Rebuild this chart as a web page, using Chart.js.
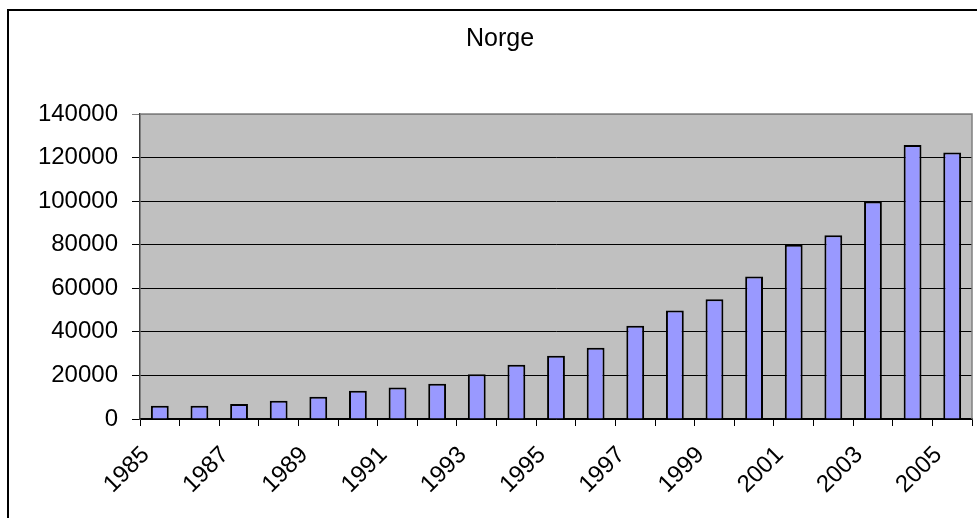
<!DOCTYPE html>
<html>
<head>
<meta charset="utf-8">
<script src="https://cdn.jsdelivr.net/npm/chart.js@4/dist/chart.umd.min.js"></script>
<style>
  html, body { margin: 0; padding: 0; background: #ffffff; }
  #wrap { position: relative; width: 977px; height: 518px; }
</style>
</head>
<body>
<div id="wrap"><canvas id="c" width="977" height="518"></canvas></div>
<script>
const years = ['1985','1986','1987','1988','1989','1990','1991','1992','1993','1994','1995',
               '1996','1997','1998','1999','2000','2001','2002','2003','2004','2005'];
const values = [6100, 6100, 6900, 8400, 10200, 13000, 14500, 16200, 20500, 24900, 29000,
                32700, 42800, 49800, 55000, 65400, 80000, 84400, 99800, 125800, 122300];
const yTicks = [0, 20000, 40000, 60000, 80000, 100000, 120000, 140000];
const titleText = 'Norge';

const FONT = '"Liberation Sans", Arial, sans-serif';

const framePlugin = {
  id: 'frame',
  beforeDraw(chart) {
    const ctx = chart.ctx;
    const a = chart.chartArea;
    ctx.save();
    ctx.fillStyle = '#ffffff';
    ctx.fillRect(0, 0, chart.width, chart.height);
    ctx.strokeStyle = '#000000';
    ctx.lineWidth = 2;
    ctx.beginPath();
    ctx.moveTo(8, chart.height);
    ctx.lineTo(8, 10);
    ctx.lineTo(chart.width, 10);
    ctx.stroke();
    ctx.fillStyle = '#c0c0c0';
    ctx.fillRect(a.left, a.top, a.right - a.left, a.bottom - a.top);
    ctx.restore();
  },
  afterDatasetsDraw(chart) {
    const ctx = chart.ctx;
    const a = chart.chartArea;
    ctx.save();
    ctx.strokeStyle = '#808080';
    ctx.lineWidth = 1.5;
    ctx.beginPath();
    ctx.moveTo(a.left, a.top);
    ctx.lineTo(a.right, a.top);
    ctx.lineTo(a.right, a.bottom);
    ctx.stroke();
    ctx.restore();
  }
};

new Chart(document.getElementById('c'), {
  type: 'bar',
  data: {
    labels: years,
    datasets: [{
      data: values,
      backgroundColor: '#9999ff',
      borderColor: '#000000',
      borderWidth: 2,
      borderSkipped: 'start',
      barPercentage: 0.45,
      categoryPercentage: 1.0
    }]
  },
  options: {
    responsive: false,
    animation: false,
    devicePixelRatio: 1,
    layout: { padding: { top: 0, right: 5, bottom: 0, left: 28 } },
    plugins: {
      legend: { display: false },
      tooltip: { enabled: false },
      title: {
        display: true,
        text: titleText,
        color: '#000000',
        font: { family: FONT, size: 25, weight: 'normal', lineHeight: 1.2 },
        padding: { top: 24, bottom: 60 }
      }
    },
    scales: {
      x: {
        offset: true,
        grid: {
          offset: true,
          drawOnChartArea: false,
          drawTicks: true,
          tickLength: 7,
          color: '#000000',
          lineWidth: 1
        },
        border: { display: true, color: '#000000', width: 1.5 },
        ticks: {
          autoSkip: false,
          minRotation: 45,
          maxRotation: 45,
          labelOffset: -14,
          padding: 15,
          color: '#000000',
          font: { family: FONT, size: 24 },
          callback: function (v, i) { return i % 2 === 0 ? years[i] : ''; }
        },
        afterFit(scale) {
          scale.height = 99;
          scale.paddingLeft = 0;
          scale.paddingRight = 0;
        }
      },
      y: {
        min: 0,
        max: 140000,
        afterBuildTicks(scale) { scale.ticks = yTicks.map(v => ({ value: v })); },
        grid: {
          drawTicks: true,
          tickLength: 8,
          color: (ctx) => (ctx.tick && ctx.tick.value === 140000 ? '#808080' : '#000000'),
          lineWidth: 1
        },
        border: { display: true, color: '#404040', width: 1.5 },
        ticks: {
          padding: 14,
          color: '#000000',
          font: { family: FONT, size: 24 },
          callback: (v) => String(v)
        },
        afterFit(scale) { scale.width = 112; }
      }
    }
  },
  plugins: [framePlugin]
});
</script>
</body>
</html>
